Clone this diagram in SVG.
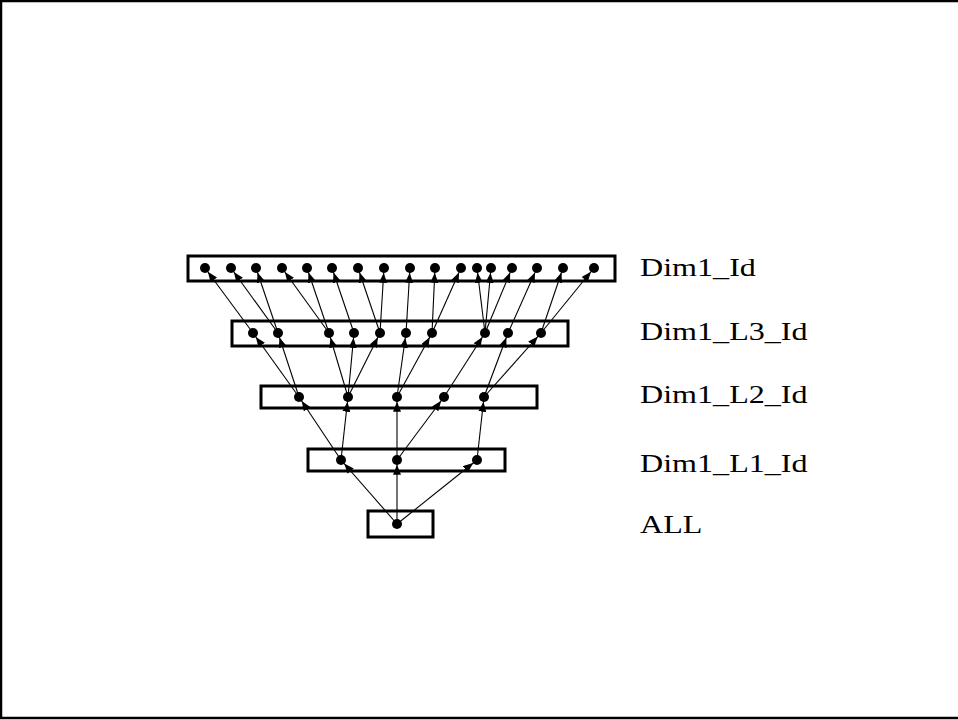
<svg xmlns="http://www.w3.org/2000/svg" width="958" height="720" viewBox="0 0 958 720">
<defs>
<marker id="ah" viewBox="0 0 10 8" refX="14.8" refY="4" markerWidth="10" markerHeight="8" markerUnits="userSpaceOnUse" orient="auto">
<path d="M0,0 L10,4 L0,8 Z" fill="#000"/>
</marker>
</defs>
<style>
.frame{fill:none;stroke:#000;stroke-width:2.5}
.box{fill:none;stroke:#000;stroke-width:3}
.dot{fill:#000}
.lbl{font-family:"Liberation Serif","Times New Roman",serif;font-size:24.5px;fill:#000}
#connectors line{stroke:#000;stroke-width:1.1;marker-end:url(#ah)}
</style>
<rect class="frame" x="1" y="1" width="970" height="717"/>
<g id="connectors">
<line x1="397" y1="524" x2="341" y2="460"/>
<line x1="397" y1="524" x2="397" y2="460"/>
<line x1="397" y1="524" x2="477" y2="460"/>
<line x1="341" y1="460" x2="299" y2="397"/>
<line x1="341" y1="460" x2="348" y2="397"/>
<line x1="397" y1="460" x2="397" y2="397"/>
<line x1="397" y1="460" x2="444" y2="397"/>
<line x1="477" y1="460" x2="484" y2="397"/>
<line x1="299" y1="397" x2="253" y2="333"/>
<line x1="299" y1="397" x2="278" y2="333"/>
<line x1="348" y1="397" x2="329" y2="333"/>
<line x1="348" y1="397" x2="354" y2="333"/>
<line x1="348" y1="397" x2="380" y2="333"/>
<line x1="397" y1="397" x2="406" y2="333"/>
<line x1="397" y1="397" x2="432" y2="333"/>
<line x1="444" y1="397" x2="485" y2="333"/>
<line x1="484" y1="397" x2="508" y2="333"/>
<line x1="484" y1="397" x2="541" y2="333"/>
<line x1="253" y1="333" x2="205" y2="268"/>
<line x1="278" y1="333" x2="231" y2="268"/>
<line x1="278" y1="333" x2="256" y2="268"/>
<line x1="329" y1="333" x2="282" y2="268"/>
<line x1="329" y1="333" x2="307" y2="268"/>
<line x1="354" y1="333" x2="332" y2="268"/>
<line x1="380" y1="333" x2="358" y2="268"/>
<line x1="380" y1="333" x2="384" y2="268"/>
<line x1="406" y1="333" x2="410" y2="268"/>
<line x1="432" y1="333" x2="435" y2="268"/>
<line x1="432" y1="333" x2="461" y2="268"/>
<line x1="485" y1="333" x2="477" y2="268"/>
<line x1="485" y1="333" x2="491" y2="268"/>
<line x1="485" y1="333" x2="512" y2="268"/>
<line x1="508" y1="333" x2="537" y2="268"/>
<line x1="541" y1="333" x2="563" y2="268"/>
<line x1="541" y1="333" x2="594" y2="268"/>
</g>
<g id="dim1_id">
<rect class="box" x="188" y="256" width="427" height="25"/>
<g class="dot">
<circle cx="205" cy="268" r="5"/><circle cx="231" cy="268" r="5"/><circle cx="256" cy="268" r="5"/><circle cx="282" cy="268" r="5"/><circle cx="307" cy="268" r="5"/><circle cx="332" cy="268" r="5"/><circle cx="358" cy="268" r="5"/><circle cx="384" cy="268" r="5"/><circle cx="410" cy="268" r="5"/><circle cx="435" cy="268" r="5"/><circle cx="461" cy="268" r="5"/><circle cx="477" cy="268" r="5"/><circle cx="491" cy="268" r="5"/><circle cx="512" cy="268" r="5"/><circle cx="537" cy="268" r="5"/><circle cx="563" cy="268" r="5"/><circle cx="594" cy="268" r="5"/>
</g>
<text class="lbl" transform="translate(640,276) scale(1.31,1)">Dim1_Id</text>
</g>
<g id="dim1_l3_id">
<rect class="box" x="232" y="321" width="336" height="25"/>
<g class="dot">
<circle cx="253" cy="333" r="5"/><circle cx="278" cy="333" r="5"/><circle cx="329" cy="333" r="5"/><circle cx="354" cy="333" r="5"/><circle cx="380" cy="333" r="5"/><circle cx="406" cy="333" r="5"/><circle cx="432" cy="333" r="5"/><circle cx="485" cy="333" r="5"/><circle cx="508" cy="333" r="5"/><circle cx="541" cy="333" r="5"/>
</g>
<text class="lbl" transform="translate(640,340) scale(1.31,1)">Dim1_L3_Id</text>
</g>
<g id="dim1_l2_id">
<rect class="box" x="261" y="386" width="276" height="22"/>
<g class="dot">
<circle cx="299" cy="397" r="5"/><circle cx="348" cy="397" r="5"/><circle cx="397" cy="397" r="5"/><circle cx="444" cy="397" r="5"/><circle cx="484" cy="397" r="5"/>
</g>
<text class="lbl" transform="translate(640,403) scale(1.31,1)">Dim1_L2_Id</text>
</g>
<g id="dim1_l1_id">
<rect class="box" x="308" y="449" width="197" height="22"/>
<g class="dot">
<circle cx="341" cy="460" r="5"/><circle cx="397" cy="460" r="5"/><circle cx="477" cy="460" r="5"/>
</g>
<text class="lbl" transform="translate(640,472) scale(1.31,1)">Dim1_L1_Id</text>
</g>
<g id="all">
<rect class="box" x="368" y="511" width="65" height="26"/>
<circle class="dot" cx="397" cy="524" r="5"/>
<text class="lbl" transform="translate(640,533) scale(1.31,1)">ALL</text>
</g>
</svg>
